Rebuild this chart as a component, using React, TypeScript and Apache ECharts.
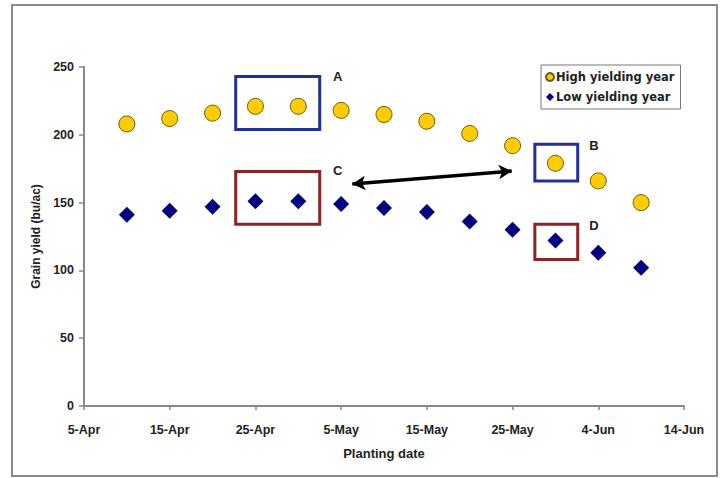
import React, { useEffect, useRef } from "react";
import * as echarts from "echarts";

const plantingDates = ["10-Apr", "15-Apr", "20-Apr", "25-Apr", "30-Apr", "5-May", "10-May", "15-May", "20-May", "25-May", "30-May", "4-Jun", "9-Jun"];
const highYield = [208, 212, 216, 221, 221, 218, 215, 210, 201, 192, 179, 166, 150];
const lowYield = [141, 144, 147, 151, 151, 149, 146, 143, 136, 130, 122, 113, 102];
const xTickLabels = ["5-Apr", "15-Apr", "25-Apr", "5-May", "15-May", "25-May", "4-Jun", "14-Jun"];
const seriesNames = ["High yielding year", "Low yielding year"];

// annotation boxes, in axis units (days after 5-Apr, bu/ac)
const boxesBlue = [
  { name: "A", x: [17.7, 27.5], y: [204, 243], label: [29.6, 243] },
  { name: "B", x: [52.6, 57.6], y: [166, 193], label: [59.5, 192] },
];
const boxesRed = [
  { name: "C", x: [17.7, 27.5], y: [134, 173], label: [29.6, 174] },
  { name: "D", x: [52.6, 57.6], y: [108, 134], label: [59.5, 133] },
];
const arrowFrom = [31.3, 163.7];
const arrowTo = [49.9, 173.3];

const MONTHS: Record<string, number> = { Apr: 3, May: 4, Jun: 5 };
const dayOffset = (s: string) => {
  const [d, m] = s.split("-");
  return (Date.UTC(2009, MONTHS[m], Number(d)) - Date.UTC(2009, 3, 5)) / 86400000;
};

const FONT = "'Liberation Sans Narrow', 'Arial Narrow', 'Liberation Sans', sans-serif";

export default function App() {
  const ref = useRef<HTMLDivElement>(null);
  useEffect(() => {
    const chart = echarts.init(ref.current!, undefined, { renderer: "svg" });
    const xs = plantingDates.map(dayOffset);
    const boxArea = (boxes: typeof boxesBlue) =>
      boxes.map((b) => [{ coord: [b.x[0], b.y[0]] }, { coord: [b.x[1], b.y[1]] }]);
    const boxLabels = (boxes: typeof boxesBlue) =>
      boxes.map((b) => ({ coord: b.label, name: b.name }));
    const labelStyle = {
      show: true,
      position: "inside",
      formatter: "{b}",
      fontFamily: FONT,
      fontWeight: "bold",
      fontSize: 13,
      color: "#222",
    };
    chart.setOption({
      animation: false,
      backgroundColor: "#fff",
      graphic: [
        {
          type: "rect",
          shape: { x: 12, y: 5, width: 705, height: 471 },
          style: { fill: "none", stroke: "#8a8a8a", lineWidth: 2 },
          silent: true,
        },
      ],
      grid: { left: 84, top: 67, right: 39, bottom: 72 },
      legend: {
        left: 541,
        top: 65,
        orient: "vertical",
        data: seriesNames,
        itemWidth: 8,
        itemHeight: 8,
        itemGap: 8,
        padding: [6, 6, 6, 4],
        borderColor: "#777",
        borderWidth: 1,
        textStyle: { fontFamily: "'DejaVu Sans', Verdana, sans-serif", fontWeight: "bold", fontSize: 11.5, color: "#222", padding: [0, 0, 0, -3] },
      },
      xAxis: {
        type: "value",
        min: 0,
        max: 70,
        interval: 10,
        name: "Planting date",
        nameLocation: "middle",
        nameGap: 41,
        nameTextStyle: { fontFamily: FONT, fontWeight: "bold", fontSize: 13, color: "#222" },
        splitLine: { show: false },
        axisLine: { lineStyle: { color: "#888", width: 2 } },
        axisTick: { show: true, length: 4, lineStyle: { color: "#888", width: 1.5 } },
        axisLabel: {
          margin: 17,
          fontFamily: FONT,
          fontWeight: "bold",
          fontSize: 12.5,
          color: "#222",
          formatter: (v: number) => xTickLabels[Math.round(v / 10)] ?? "",
        },
      },
      yAxis: {
        type: "value",
        min: 0,
        max: 250,
        interval: 50,
        name: "Grain yield (bu/ac)",
        nameLocation: "middle",
        nameGap: 41,
        nameTextStyle: { fontFamily: FONT, fontWeight: "bold", fontSize: 12, color: "#222" },
        splitLine: { show: false },
        axisLine: { show: true, lineStyle: { color: "#888", width: 2 } },
        axisTick: { show: true, length: 5, lineStyle: { color: "#888", width: 1.5 } },
        axisLabel: { margin: 10, fontFamily: FONT, fontWeight: "bold", fontSize: 12.5, color: "#222" },
      },
      series: [
        {
          name: seriesNames[0],
          type: "scatter",
          symbol: "circle",
          symbolSize: 16,
          itemStyle: { color: "#FFCC00", borderColor: "#6b5a10", borderWidth: 1, opacity: 1 },
          data: xs.map((x, i) => [x, highYield[i]]),
          markArea: {
            silent: true,
            itemStyle: { color: "rgba(0,0,0,0)", borderColor: "#22309a", borderWidth: 3 },
            data: boxArea(boxesBlue),
          },
          markPoint: {
            symbol: "circle",
            symbolSize: 1,
            itemStyle: { color: "rgba(0,0,0,0)" },
            label: labelStyle,
            data: boxLabels(boxesBlue),
          },
          markLine: {
            silent: true,
            symbol: ["arrow", "arrow"],
            symbolSize: [11, 13],
            label: { show: false },
            lineStyle: { color: "#000", width: 3.5, type: "solid" },
            data: [[{ coord: arrowFrom }, { coord: arrowTo }]],
          },
        },
        {
          name: seriesNames[1],
          type: "scatter",
          symbol: "diamond",
          symbolSize: 16,
          itemStyle: { color: "#000080", opacity: 1 },
          data: xs.map((x, i) => [x, lowYield[i]]),
          markArea: {
            silent: true,
            itemStyle: { color: "rgba(0,0,0,0)", borderColor: "#8f2222", borderWidth: 3 },
            data: boxArea(boxesRed),
          },
          markPoint: {
            symbol: "circle",
            symbolSize: 1,
            itemStyle: { color: "rgba(0,0,0,0)" },
            label: labelStyle,
            data: boxLabels(boxesRed),
          },
        },
      ],
    });
    return () => chart.dispose();
  }, []);
  return (
    <div
      ref={ref}
      style={{ position: "absolute", left: 0, top: 0, width: 723, height: 478 }}
    />
  );
}
